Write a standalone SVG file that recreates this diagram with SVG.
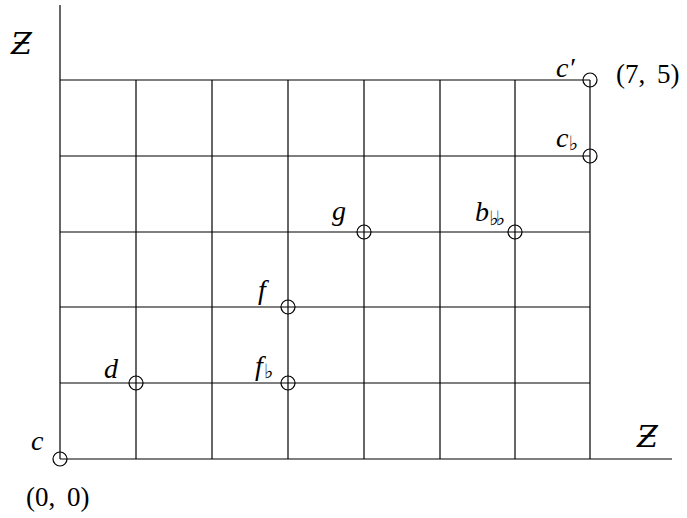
<svg xmlns="http://www.w3.org/2000/svg" width="687" height="518" viewBox="0 0 687 518">
<style>
.g{stroke:#000;stroke-width:1.2;fill:none}
.n{stroke:#000;stroke-width:1.2;fill:none}
.t{font-family:"Liberation Serif","DejaVu Serif",serif;font-size:28px;fill:#000}
.i{font-style:italic}
.s{font-family:"DejaVu Sans",sans-serif;font-size:20px;font-style:normal}
.c{font-size:27px;word-spacing:5px}
.z{font-family:"DejaVu Serif",serif;font-style:italic;font-size:30px}
</style>
<rect width="687" height="518" fill="#fff"/>
<g id="connectors" class="g">
<line x1="60" y1="5" x2="60" y2="459"/>
<line x1="60" y1="459" x2="672" y2="459"/>
<line x1="136" y1="80" x2="136" y2="459"/>
<line x1="212" y1="80" x2="212" y2="459"/>
<line x1="288" y1="80" x2="288" y2="459"/>
<line x1="364" y1="80" x2="364" y2="459"/>
<line x1="440" y1="80" x2="440" y2="459"/>
<line x1="515" y1="80" x2="515" y2="459"/>
<line x1="590" y1="80" x2="590" y2="459"/>
<line x1="60" y1="80" x2="590" y2="80"/>
<line x1="60" y1="156" x2="590" y2="156"/>
<line x1="60" y1="232" x2="590" y2="232"/>
<line x1="60" y1="307" x2="590" y2="307"/>
<line x1="60" y1="383" x2="590" y2="383"/>
</g>
<g id="axis-labels">
<text class="t z" x="11" y="54">Ƶ</text>
<text class="t z" x="637" y="447">Ƶ</text>
</g>
<g id="node-c"><circle class="n" cx="60" cy="459" r="7"/><text class="t i" x="31" y="450">c</text><text class="t c" x="26" y="506">(0, 0)</text></g>
<g id="node-d"><circle class="n" cx="136" cy="383" r="7"/><text class="t i" x="104" y="378">d</text></g>
<g id="node-fb"><circle class="n" cx="288" cy="383" r="7"/><text class="t i" x="255" y="375">f<tspan class="s" dx="1" dy="3">♭</tspan></text></g>
<g id="node-f"><circle class="n" cx="288" cy="307" r="7"/><text class="t i" x="258" y="299">f</text></g>
<g id="node-g"><circle class="n" cx="364" cy="232" r="7"/><text class="t i" x="332" y="220">g</text></g>
<g id="node-bbb"><circle class="n" cx="515" cy="232" r="7"/><text class="t i" x="475" y="221">b<tspan class="s" dy="4" letter-spacing="-3">♭♭</tspan></text></g>
<g id="node-cb"><circle class="n" cx="590" cy="156" r="7"/><text class="t i" x="556" y="147">c<tspan class="s" dy="3">♭</tspan></text></g>
<g id="node-c-prime"><circle class="n" cx="590" cy="80" r="7"/><text class="t i" x="556" y="77">c′</text><text class="t c" x="616" y="83">(7, 5)</text></g>
</svg>
